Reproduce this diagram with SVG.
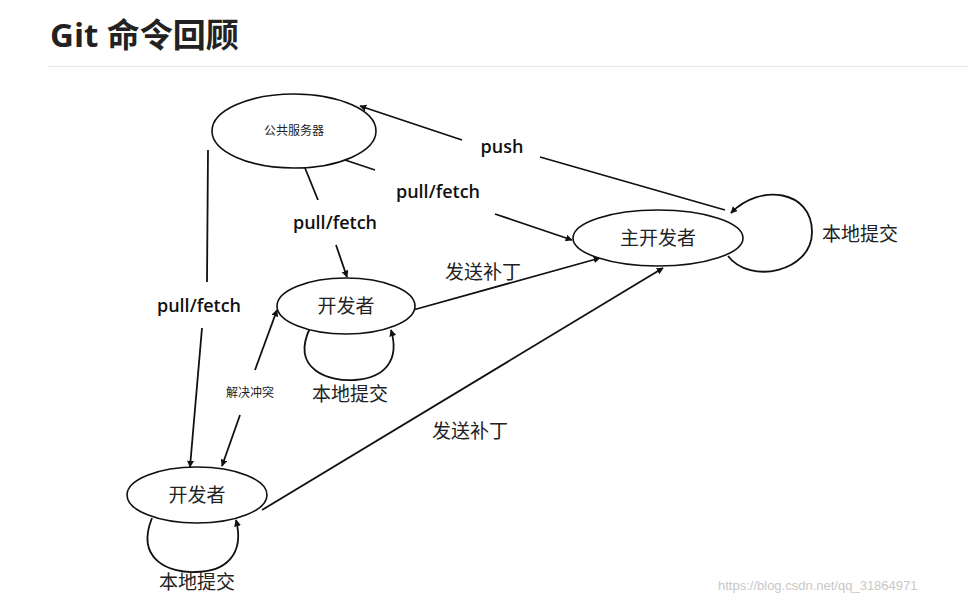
<svg xmlns="http://www.w3.org/2000/svg" width="968" height="606" viewBox="0 0 968 606">
<style>
.n{fill:#fff;stroke:#111;stroke-width:1.6}
.e{fill:none;stroke:#111;stroke-width:1.8}
.t{font-family:"Noto Sans CJK SC","Noto Sans",sans-serif;fill:#222;text-anchor:middle}
.l{font-family:"Open Sans","Noto Sans",sans-serif;font-weight:600;font-size:18px;fill:#111;text-anchor:middle}
</style>
<defs><marker id="a" viewBox="0 0 10 10" refX="9" refY="5" markerWidth="7" markerHeight="7" orient="auto" markerUnits="userSpaceOnUse"><path d="M0,0L10,5L0,10z" fill="#111"/></marker></defs>
<rect width="968" height="606" fill="#fff"/>
<text x="50" y="47" font-family="'Open Sans','Noto Sans CJK SC',sans-serif" font-weight="700" font-size="33" fill="#222">Git 命令回顾</text>
<line x1="48" y1="66.5" x2="968" y2="66.5" stroke="#e6e6e6"/>
<g id="connectors" class="e">
<path d="M725,210L540,157M462,140L360,106" marker-end="url(#a)"/>
<path d="M345,160L375,170M495,214L572,240" marker-end="url(#a)"/>
<path d="M305,168L318,200M336,245L347,277" marker-end="url(#a)"/>
<path d="M208,150L207,282M202,328L190,467" marker-end="url(#a)"/>
<path d="M413,310L600,258" marker-end="url(#a)"/>
<path d="M262,510L663,268" marker-end="url(#a)"/>
<path d="M255,370L277,310" marker-end="url(#a)"/>
<path d="M240,415L222,466" marker-end="url(#a)"/>
<path d="M728,256C750,285 812,272 812,232C812,190 760,183 731,213" marker-end="url(#a)"/>
<path d="M310,328C290,370 330,382 355,380C385,378 400,360 391,330" marker-end="url(#a)"/>
<path d="M152,518C135,560 170,573 195,572C225,572 245,555 236,520" marker-end="url(#a)"/>
</g>
<g id="server"><ellipse class="n" cx="294" cy="131" rx="82" ry="37"/><text class="t" x="294" y="135" font-size="12">公共服务器</text></g>
<g id="main"><ellipse class="n" cx="658" cy="238" rx="85" ry="28"/><text class="t" x="658" y="245" font-size="19">主开发者</text></g>
<g id="dev1"><ellipse class="n" cx="346" cy="306" rx="69" ry="28"/><text class="t" x="346" y="313" font-size="19">开发者</text></g>
<g id="dev2"><ellipse class="n" cx="197" cy="495" rx="70" ry="28"/><text class="t" x="197" y="502" font-size="19">开发者</text></g>
<g id="labels">
<text class="l" x="502" y="153">push</text>
<text class="l" x="438" y="198">pull/fetch</text>
<text class="l" x="335" y="229">pull/fetch</text>
<text class="l" x="199" y="312">pull/fetch</text>
<text class="t" x="483" y="279" font-size="19">发送补丁</text>
<text class="t" x="470" y="438" font-size="19">发送补丁</text>
<text class="t" x="250" y="397" font-size="12">解决冲突</text>
<text class="t" x="860" y="241" font-size="19">本地提交</text>
<text class="t" x="350" y="401" font-size="19">本地提交</text>
<text class="t" x="197" y="589" font-size="19">本地提交</text>
</g>
<text x="718" y="590" font-family="'Liberation Sans',sans-serif" font-size="13" fill="#c8c8c8">https://blog.csdn.net/qq_31864971</text>
</svg>
